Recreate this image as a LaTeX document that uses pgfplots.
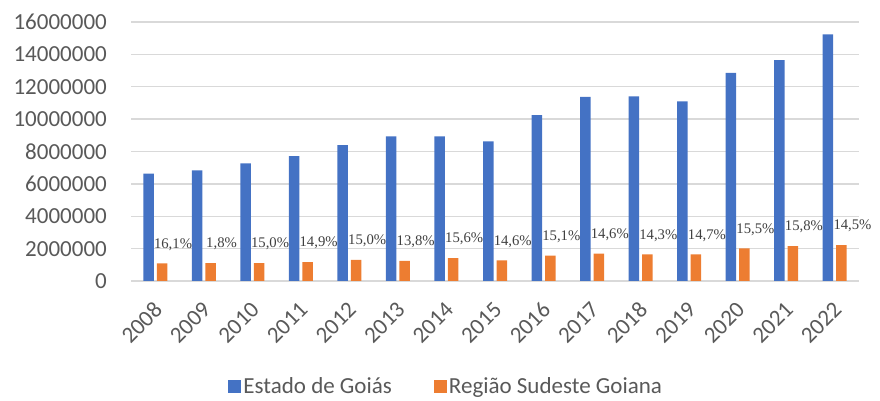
\documentclass[border=0pt]{standalone}
\usepackage{fontspec}
\setmainfont{Liberation Serif}
\newfontfamily\carlito{Carlito}
\usepackage{pgfplots}
\pgfplotsset{compat=1.18}
\definecolor{goias}{HTML}{4472C4}
\definecolor{sudeste}{HTML}{ED7D31}
\definecolor{gridc}{HTML}{D9D9D9}
\definecolor{tickc}{HTML}{595959}
\definecolor{lblc}{HTML}{404040}

\begin{document}
\begin{tikzpicture}
\path[use as bounding box] (0,0) rectangle (880pt,401pt);
\begin{axis}[
    at={(131pt,120pt)}, anchor=south west,
    scale only axis, width=728pt, height=259pt,
    ybar,
    ymin=0, ymax=16000000,
    ytick={0,2000000,4000000,6000000,8000000,10000000,12000000,14000000,16000000},
    scaled y ticks=false,
    /pgf/number format/.cd, fixed, 1000 sep={}, assume math mode=true, /pgfplots/.cd,
    xmin=-0.5, xmax=14.5,
    xtick={0,...,14},
    xticklabels={2008,2009,2010,2011,2012,2013,2014,2015,2016,2017,2018,2019,2020,2021,2022},
    axis line style={draw=none},
    major tick length=0pt,
    ymajorgrids, grid style={gridc, line width=1.4pt},
    tick label style={font=\carlito\fontsize{23}{27}\selectfont, text=tickc},
    y tick label style={anchor=east, inner sep=0pt, xshift=-24pt},
    x tick label style={xshift=3pt, yshift=-25pt, rotate=45, anchor=east, inner sep=0pt},
    legend style={at={(0.433,-0.405)}, anchor=center, draw=none,
        font=\carlito\fontsize{23}{27}\selectfont, text=tickc,
        /tikz/every even column/.append style={column sep=40pt}},
    legend columns=2,
    legend image code/.code={\path[#1,draw=none] (0pt,-7pt) rectangle (13pt,6pt);},
]
\addplot[fill=goias, draw=none, bar width=10.5pt, bar shift=-6.75pt] coordinates {
(0,6630000) (1,6840000) (2,7270000) (3,7720000) (4,8400000)
(5,8940000) (6,8940000) (7,8630000) (8,10250000) (9,11370000)
(10,11410000) (11,11100000) (12,12850000) (13,13650000) (14,15240000)
};
\addlegendentry{Estado de Goiás}
\addplot[fill=sudeste, draw=none, bar width=10.5pt, bar shift=6.75pt,
    nodes near coords, point meta=explicit symbolic,
    every node near coord/.append style={font=\fontsize{14.7}{16}\selectfont,
        text=lblc, anchor=center, xshift=11pt, yshift=19pt}] coordinates {
(0,1090000) [16,1\%]
(1,1110000) [1,8\%]
(2,1110000) [15,0\%]
(3,1170000) [14,9\%]
(4,1300000) [15,0\%]
(5,1250000) [13,8\%]
(6,1420000) [15,6\%]
(7,1280000) [14,6\%]
(8,1560000) [15,1\%]
(9,1690000) [14,6\%]
(10,1650000) [14,3\%]
(11,1650000) [14,7\%]
(12,2020000) [15,5\%]
(13,2160000) [15,8\%]
(14,2220000) [14,5\%]
};
\addlegendentry{Região Sudeste Goiana}
\end{axis}
\end{tikzpicture}
\end{document}
